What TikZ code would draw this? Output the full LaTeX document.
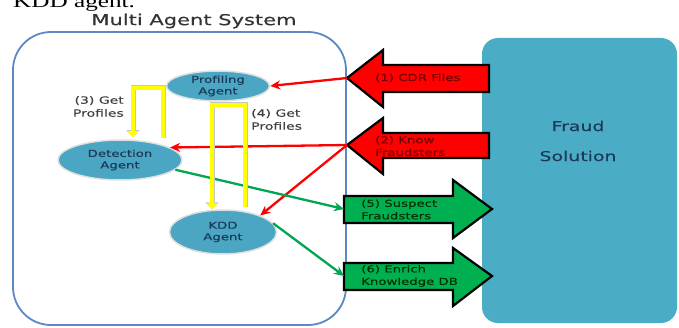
\documentclass[tikz,border=0pt]{standalone}
\usepackage{fontspec}
\usepackage{tikz}
\usetikzlibrary{arrows.meta,positioning,shapes.geometric,calc}
\newfontfamily\diagfont[FakeStretch=1.4,FakeBold=0.4]{DejaVu Sans}
\newfontfamily\pagefont[FakeStretch=1.4]{Liberation Serif}
\definecolor{masblue}{HTML}{5B87C5}
\definecolor{teal}{HTML}{4BACC6}
\definecolor{agentfill}{HTML}{4AA6C2}
\definecolor{agenttext}{HTML}{1B3A57}
\definecolor{blockred}{HTML}{FF0000}
\definecolor{blockgreen}{HTML}{00B050}
\definecolor{linkgreen}{HTML}{00A651}
\definecolor{getyellow}{HTML}{FFFF00}

\begin{document}
\begin{tikzpicture}[x=1pt, y=1pt,
  agent/.style={ellipse, draw=gray!25, line width=1.5pt, fill=agentfill,
                align=center, text=agenttext, inner sep=0pt,
                font=\diagfont\fontsize{9.5}{11.5}\selectfont},
  redblock/.style={fill=blockred, draw=black, line width=2.2pt, line join=miter},
  greenblock/.style={fill=blockgreen, draw=black, line width=2.2pt, line join=miter},
  blocktext/.style={align=left, anchor=west, inner sep=0pt,
                    font=\diagfont\fontsize{9.5}{12.5}\selectfont},
  redlink/.style={draw=red, line width=2.3pt, -{Stealth[length=10pt,width=9pt]}},
  greenlink/.style={draw=linkgreen, line width=2.3pt, -{Stealth[length=10pt,width=9pt]}},
  getline/.style={draw=getyellow, line width=3.6pt,
                  -{Triangle[length=6pt,width=11pt]},
                  preaction={draw=gray!45, line width=5pt, -{Triangle[length=7pt,width=13pt]}}},
  getlabel/.style={align=left, inner sep=0pt, text=black!75,
                   font=\diagfont\fontsize{10}{13}\selectfont}
]
  \useasboundingbox (0,0) rectangle (679,327);

  % text of the page above the figure
  \node[anchor=base west, inner sep=0pt, font=\pagefont\fontsize{18}{20}\selectfont] (pagetext)
    at (13,319.5) {KDD agent.};

  % the two systems
  \draw[masblue, line width=1.8pt, rounded corners=38pt] (13,2) rectangle (346,295);
  \node[font=\diagfont\fontsize{15}{18}\selectfont, text=black!80] (mas) at (194,306) {Multi Agent System};
  \fill[teal, rounded corners=16pt] (482,4) rectangle (677,289);
  \node[align=center, text=agenttext, font=\diagfont\fontsize{13.5}{30}\selectfont] (fraud)
    at (578,186) {Fraud\\Solution};

  % agents
  \node[agent, minimum width=103pt, minimum height=30pt] (prof) at (218,241) {Profiling\\Agent};
  \node[agent, minimum width=124pt, minimum height=40pt] (det) at (120,167) {Detection\\Agent};
  \node[agent, minimum width=107pt, minimum height=44pt] (kdd) at (223,95) {KDD\\Agent};

  % block arrows
  \coordinate (cdrtip) at (347,249);
  \draw[redblock] (cdrtip) -- (383,277) -- (383,262) -- (489,262) -- (489,235)
    -- (383,235) -- (383,220) -- cycle;
  \node[blocktext, text=red!45!black] (cdr) at (375,249) {(1) CDR Files};

  \coordinate (knowtip) at (347,182);
  \draw[redblock] (knowtip) -- (383,209) -- (383,194) -- (489,194) -- (489,169)
    -- (383,169) -- (383,153) -- cycle;
  \node[blocktext, text=red!45!black] (know) at (375,181) {(2) Know\\Fraudsters};

  \coordinate (susptail) at (344,118);
  \draw[greenblock] (492,118) -- (453,147) -- (453,131) -- (susptail |- 0,131) -- (susptail |- 0,104)
    -- (453,104) -- (453,89) -- cycle;
  \node[blocktext, text=green!20!black] (susp) at (361,117.5) {(5) Suspect\\Fraudsters};

  \coordinate (enrtail) at (344,51);
  \draw[greenblock] (492,51) -- (453,79) -- (453,64) -- (enrtail |- 0,64) -- (enrtail |- 0,37)
    -- (453,37) -- (453,21) -- cycle;
  \node[blocktext, text=green!20!black] (enr) at (361,51) {(6) Enrich\\Knowledge DB};

  % connectors
  \draw[redlink] (cdrtip) -- (prof.east);
  \draw[redlink] (knowtip) -- (det.14);
  \draw[redlink] (knowtip) -- (kdd.24);
  \draw[greenlink] (det.-10) -- (susptail);
  \draw[greenlink] (kdd.10) -- (enrtail);

  \draw[getline] ($(det.north)+(43,1)$) |- ($(prof.west)+(-4,-2)$) -| ($(det.north)+(13,2)$);
  \draw[getline] ($(kdd.north)+(22,2)$) |- ($(prof.south)+(-6,-3)$) -| ($(kdd.north)+(-11,0)$);

  \node[getlabel, align=right, anchor=east] (get3) at (124,220.5) {(3) Get\\Profiles};
  \node[getlabel, anchor=west] (get4) at (251,207.5) {(4) Get\\Profiles};
\end{tikzpicture}
\end{document}
